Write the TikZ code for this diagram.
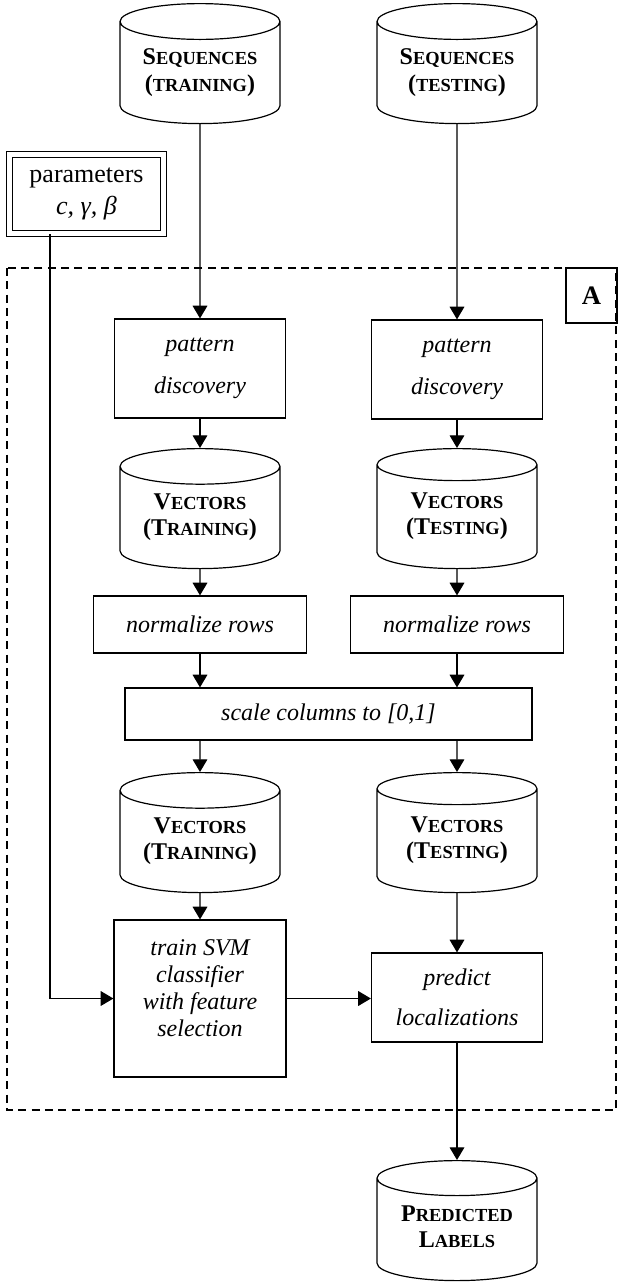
\documentclass[tikz,border=0pt]{standalone}
\usepackage{fontspec}
\setmainfont{Liberation Serif}
\usetikzlibrary{shapes.geometric,arrows.meta}
\newcommand\smc[2]{#1{\fontsize{13.8pt}{20pt}\selectfont #2}}
\begin{document}
\begin{tikzpicture}[x=0.75pt,y=-0.75pt,line width=0.9pt,
  >={Triangle[length=9.5pt,width=11pt]},
  db/.style={draw,cylinder,shape border rotate=90,aspect=0.29,anchor=north,
    minimum width=120pt,minimum height=90pt,align=center,text depth=9pt,
    font=\fontsize{18pt}{20pt}\selectfont\bfseries},
  proc/.style={draw,rectangle,align=center,
    font=\fontsize{18pt}{20.25pt}\selectfont\itshape}]
\useasboundingbox (0,0) rectangle (618,1282);
% the dashed part A
\draw[line width=0.8pt,dash pattern=on 6pt off 4pt] (7,268) rectangle (616,1110);
\node[draw,minimum width=38.25pt,minimum height=41.25pt,
  font=\fontsize{20pt}{24pt}\selectfont\bfseries] (A) at (591.5,295.5) {A};

\node[db] (seqtrain) at (200,3) {\smc{S}{EQUENCES}\\(\smc{}{TRAINING})};
\node[db] (seqtest) at (457,3) {\smc{S}{EQUENCES}\\(\smc{}{TESTING})};
\node[draw,double,double distance=3.4pt,minimum width=115.8pt,minimum height=59.6pt,
  align=center,font=\fontsize{19.5pt}{24pt}\selectfont] (params) at (86.5,194)
  {parameters\\\textit{c, γ, β}};

\node[proc,minimum width=128.25pt,minimum height=74.25pt] (patL) at (200,368.5) {pattern\\[11.25pt]discovery};
\node[proc,minimum width=128.25pt,minimum height=74.25pt] (patR) at (457,369.5) {pattern\\[11.25pt]discovery};
\node[db] (vecL1) at (200,448) {\smc{V}{ECTORS}\\(\smc{T}{RAINING})};
\node[db] (vecR1) at (457,448) {\smc{V}{ECTORS}\\(\smc{T}{ESTING})};
\node[proc,minimum width=160pt,minimum height=42.75pt] (normL) at (200,624.5) {normalize rows};
\node[proc,minimum width=160pt,minimum height=42.75pt] (normR) at (457,624.5) {normalize rows};
\node[proc,minimum width=305.25pt,minimum height=39pt] (scale) at (328.5,714) {scale columns to [0,1]};
\node[db] (vecL2) at (200,772) {\smc{V}{ECTORS}\\(\smc{T}{RAINING})};
\node[db] (vecR2) at (457,772) {\smc{V}{ECTORS}\\(\smc{T}{ESTING})};
\node[proc,minimum width=129pt,minimum height=117.75pt] (train) at (200,998.5)
  {train SVM\\classifier\\with feature\\selection\\[-4pt]\mbox{}};
\node[proc,minimum width=128.25pt,minimum height=66.75pt] (predict) at (457,997.5) {predict\\[9.75pt]localizations};
\node[db] (predlab) at (457,1160) {\smc{P}{REDICTED}\\\smc{L}{ABELS}};

\coordinate (ptap) at (50,0);
\draw[->] (seqtrain) -- (patL);
\draw[->] (seqtest) -- (patR);
\draw[->] (patL) -- (vecL1);
\draw[->] (patR) -- (vecR1);
\draw[->] (vecL1) -- (normL);
\draw[->] (vecR1) -- (normR);
\draw[->] (normL) -- (normL |- scale.north);
\draw[->] (normR) -- (normR |- scale.north);
\draw[->] (scale.south -| vecL2) -- (vecL2);
\draw[->] (scale.south -| vecR2) -- (vecR2);
\draw[->] (vecL2) -- (train);
\draw[->] (vecR2) -- (predict);
\draw[->] (params.south -| ptap) |- (train.west);
\draw[->] (train.east) -- (predict.west |- train.east);
\draw[->] (predict) -- (predlab);
\end{tikzpicture}
\end{document}
